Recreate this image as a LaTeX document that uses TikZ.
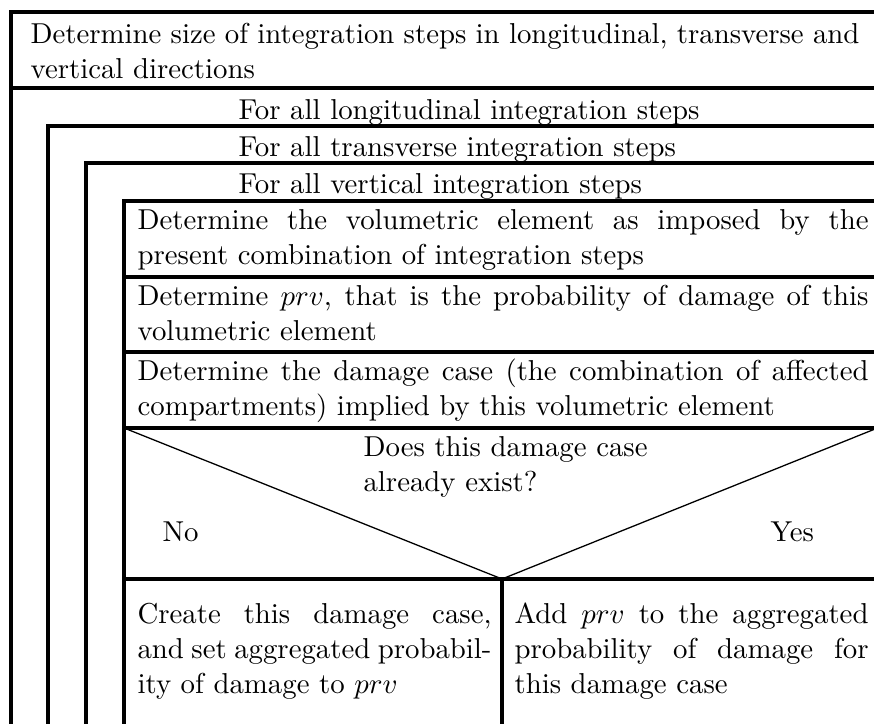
\documentclass[tikz,border=0pt]{standalone}
\begin{document}
\begin{tikzpicture}[
    x=0.3472pt, y=-0.3472pt,
    frame/.style={line width=1.1pt},
    diag/.style={line width=0.45pt},
    txt/.style={anchor=base west, inner sep=0pt, font=\fontsize{10}{12.15}\selectfont},
    textblock/.style={txt, text width=#1, align=justify}
]
    \useasboundingbox (0,0) rectangle (874,724);

    % Outer block and the three loops
    \draw[frame] (880,12) -- (11,12) -- (11,730);
    \draw[frame] (11,88) -- (880,88);
    \draw[frame] (48,730) -- (48,126) -- (880,126);
    \draw[frame] (86,730) -- (86,163) -- (880,163);
    \draw[frame] (124,730) -- (124,201) -- (880,201);

    % Statements inside the innermost loop
    \foreach \y in {277,352,428,579}
        \draw[frame] (124,\y) -- (880,\y);
    \draw[frame] (502,579) -- (502,730);

    % Decision
    \draw[diag] (124,428) -- (502,579) -- (880,427);

    % Texts
    \node[textblock=287.8pt] (size) at (30,44) {Determine size of integration steps in longitudinal, transverse and\break vertical directions};
    \node[txt] (lon) at (238,120) {For all longitudinal integration steps};
    \node[txt] (tra) at (238,157) {For all transverse integration steps};
    \node[txt] (ver) at (238,194) {For all vertical integration steps};
    \node[textblock=253.8pt] (vol) at (137,230) {Determine the volumetric element as imposed by the\break present combination of integration steps};
    \node[textblock=253.8pt] (prv) at (137,306) {Determine $prv$, that is the probability of damage of this\break volumetric element};
    \node[textblock=253.8pt] (case) at (137,381) {Determine the damage case (the combination of affected\break compartments) implied by this volumetric element};
    \node[txt, text width=120pt, align=left] (ask) at (363,457) {Does this damage case\\already exist?};
    \node[txt] (no) at (162,542) {No};
    \node[txt] (yes) at (770,542) {Yes};
    \node[textblock=122.9pt] (create) at (137,624) {Create this damage case,\break and set aggregated probabil-\break ity of damage to $prv$};
    \node[textblock=122.9pt] (add) at (514,624) {Add $prv$ to the aggregated\break probability of damage for\break this damage case};
\end{tikzpicture}
\end{document}
